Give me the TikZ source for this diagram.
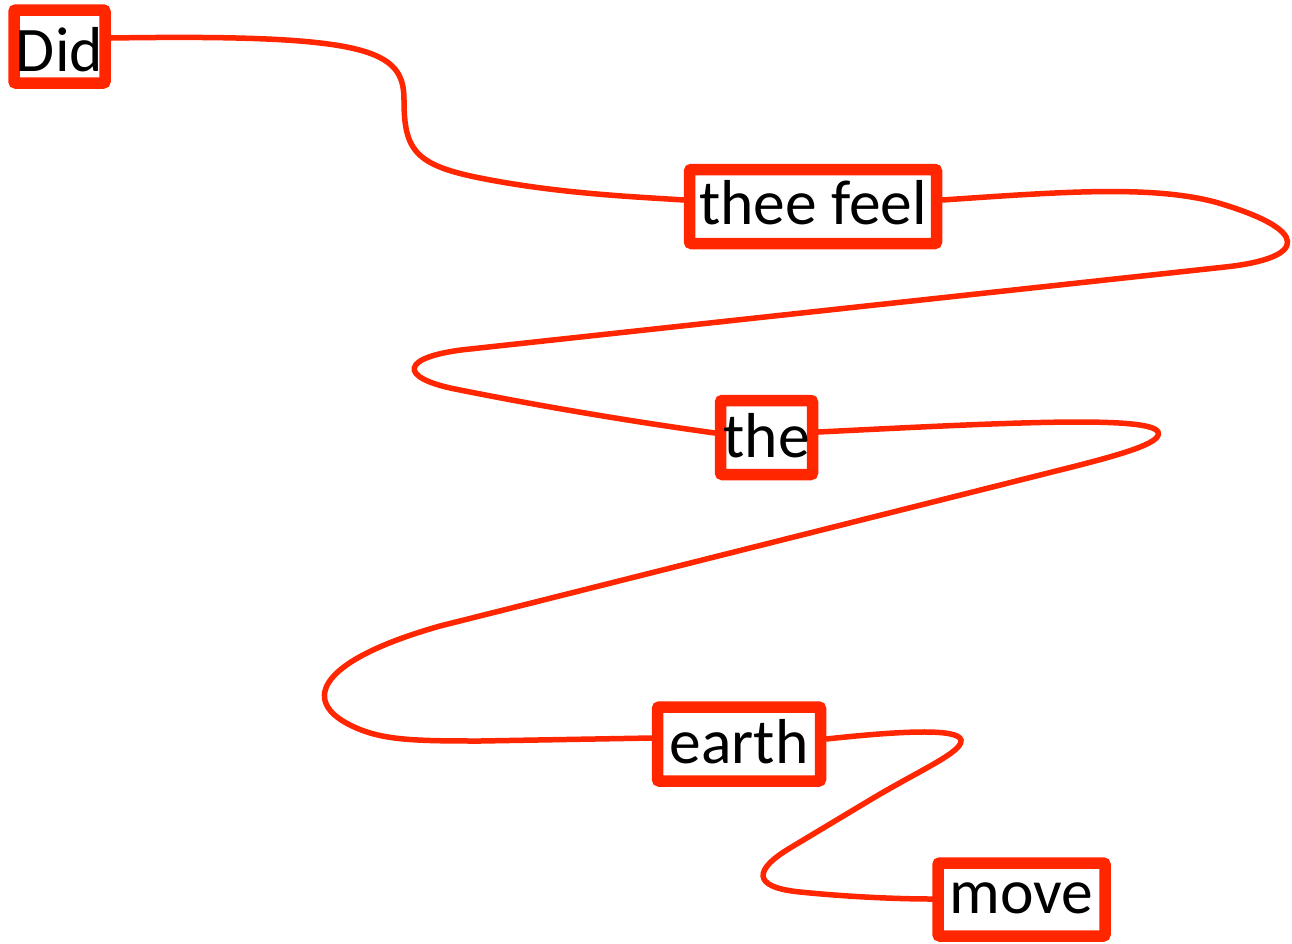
\documentclass[tikz,border=0pt]{standalone}
\usepackage{fontspec}
\setmainfont{Carlito}
\usepackage{xcolor}
\usetikzlibrary{shadows,backgrounds}

\definecolor{wordred}{RGB}{255,38,0}

\tikzset{
    wordbox/.style={draw=wordred, line width=11.5pt, rounded corners=2pt, fill=white,
        inner sep=0pt, text depth=0pt, text height=38pt,
        font=\fontsize{63.5}{70}\selectfont,
        drop shadow={shadow xshift=2pt, shadow yshift=-3pt, opacity=.25, fill=black!60}},
    wire/.style={draw=wordred, line width=5.5pt, line cap=round},
}

\begin{document}
\begin{tikzpicture}[x=1pt, y=-1pt]
\useasboundingbox (0,0) rectangle (1292,943);

\node[wordbox, minimum width=91pt,  minimum height=73pt, text height=50pt] (did)   at (59.5,46.5)  {Did};
\node[wordbox, minimum width=247pt, minimum height=74pt, text height=35pt] (thee)  at (813,206.5)  {thee feel};
\node[wordbox, minimum width=92pt,  minimum height=74pt, text height=39pt] (the)   at (766.5,437.5) {the};
\node[wordbox, minimum width=163pt, minimum height=74pt, text height=38pt] (earth) at (739,744)    {earth};
\node[wordbox, minimum width=167pt, minimum height=73pt, text height=28pt] (move)  at (1021.5,899.5) {move};

\begin{scope}[on background layer]
% Did -> thee feel
\draw[wire] ([yshift=8.5pt]did.east) .. controls (370,34) and (404,50) .. (404,100)
    .. controls (404,150) and (415,165) .. (480,178)
    .. controls (560,194) and (640,197) .. ([yshift=6.5pt]thee.west);
% thee feel -> the
\draw[wire] ([yshift=6.5pt]thee.east) .. controls (1060,192) and (1150,185) .. (1215,202)
    .. controls (1312,230) and (1308,258) .. (1225,267)
    -- (470,349)
    .. controls (400,356) and (395,378) .. (460,390)
    .. controls (560,410) and (650,424) .. ([yshift=4.5pt]the.west);
% the -> earth
\draw[wire] ([yshift=5.5pt]the.east) .. controls (1000,423) and (1150,415) .. (1158,432)
    .. controls (1163,443) and (1120,455) .. (1060,470)
    -- (440,626)
    .. controls (320,660) and (300,700) .. (350,725)
    .. controls (380,740) and (410,741) .. (480,741)
    -- ([yshift=6pt]earth.west);
% earth -> move
\draw[wire] ([yshift=5pt]earth.east) .. controls (900,731) and (958,728) .. (961,740)
    .. controls (963,752) and (920,770) .. (870,800)
    -- (790,848)
    .. controls (755,869) and (750,887) .. (800,892)
    .. controls (860,898) and (910,899) .. ([yshift=0.5pt]move.west);
\end{scope}
\end{tikzpicture}
\end{document}
